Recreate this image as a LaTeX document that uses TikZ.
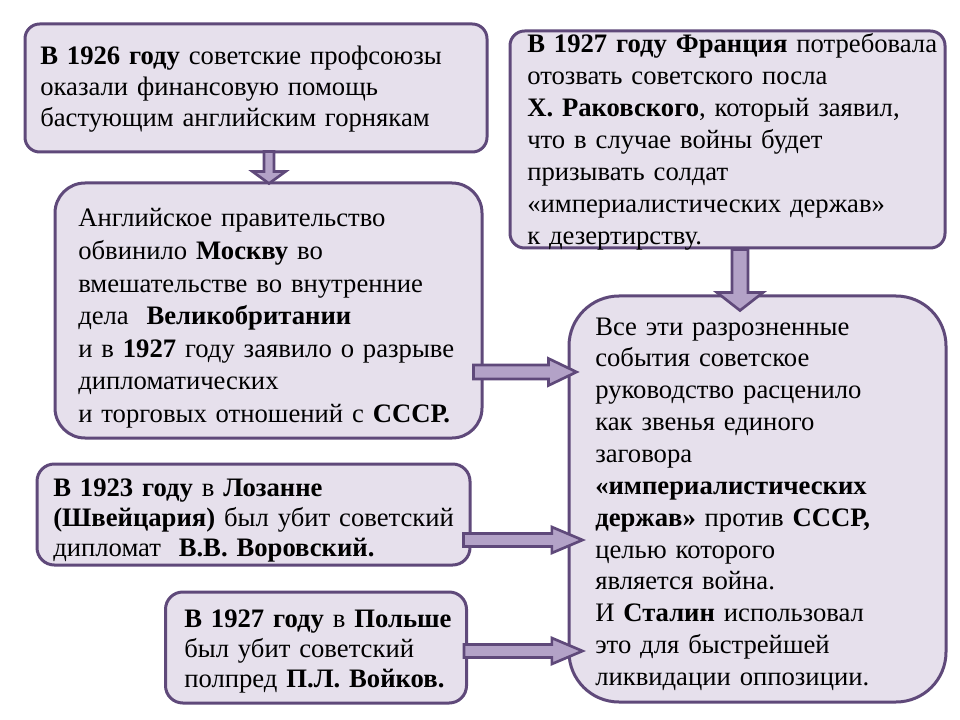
\documentclass[tikz,border=0pt]{standalone}
\usepackage{fontspec}
\setmainfont{Liberation Serif}
\usetikzlibrary{calc}

\definecolor{boxfill}{HTML}{E6E0EC}
\definecolor{boxline}{HTML}{5F497A}
\definecolor{arrowfill}{HTML}{B3A2C7}

\begin{document}
\begin{tikzpicture}[
    x = 0.75pt, y = -0.75pt,
    box/.style = {draw = boxline, fill = boxfill, line width = 2.25pt,
      rounded corners = 11pt, inner sep = 0pt},
    txt/.style = {anchor = base west, inner sep = 0pt, align = left,
      text width = 380pt, font = \fontsize{20}{23.5}\selectfont},
    ba shaft/.store in = \bashaft, ba head/.store in = \bahead,
    ba len/.store in = \balen,
    ba shaft = 5pt, ba head = 10pt, ba len = 20pt,
    blockarrow/.style = {draw = boxline, fill = arrowfill, line width = 2pt,
      line join = miter,
      to path = {
        ($(\tikztotarget)!\balen!(\tikztostart)$) coordinate (ba-h)
        ($(\tikztostart)!\bashaft!90:(\tikztotarget)$)
        -- ($(ba-h)!\bashaft!90:(\tikztotarget)$)
        -- ($(ba-h)!\bahead!90:(\tikztotarget)$)
        -- (\tikztotarget)
        -- ($(ba-h)!\bahead!-90:(\tikztotarget)$)
        -- ($(ba-h)!\bashaft!-90:(\tikztotarget)$)
        -- ($(\tikztostart)!\bashaft!-90:(\tikztotarget)$)
        -- cycle}}
  ]
  \useasboundingbox[fill = white] (0,0) rectangle (960,720);

  % boxes
  \node[box, minimum width = 346.5pt, minimum height = 96pt]
    (b1926) at (256,88) {};
  \node[box, minimum width = 326.25pt, minimum height = 162.75pt]
    (b1927fr) at (727.5,139.5) {};
  \node[box, rounded corners = 22.5pt, minimum width = 320.25pt,
    minimum height = 191.25pt] (bbrit) at (268.5,310.5) {};
  \node[box, rounded corners = 37.5pt, minimum width = 282.75pt,
    minimum height = 304.5pt] (bsum) at (757.5,499) {};
  \node[box, rounded corners = 13pt, minimum width = 324.75pt,
    minimum height = 75.75pt] (b1923) at (253.5,514.5) {};
  \node[box, rounded corners = 13pt, minimum width = 225.75pt,
    minimum height = 83.25pt] (b1927pl) at (316,647.5) {};

  % texts
  \node[txt, font = \fontsize{20}{23.25}\selectfont] (t1926) at (40,65)
    {\textbf{В 1926 году} советские профсоюзы\\
     оказали финансовую помощь\\
     бастующим английским горнякам};
  \node[txt, font = \fontsize{20}{24}\selectfont] (t1927fr) at (527,53)
    {\textbf{В 1927 году Франция} потребовала\\
     отозвать советского посла\\
     \textbf{Х. Раковского}, который заявил,\\
     что в случае войны будет\\
     призывать солдат\\
     «империалистических держав»\\
     к дезертирству.};
  \node[txt, font = \fontsize{20}{24.4}\selectfont] (tbrit) at (78,227)
    {Английское правительство\\
     обвинило \textbf{Москву} во\\
     вмешательстве во внутренние\\
     дела \ \textbf{Великобритании}\\
     и в \textbf{1927} году заявило о разрыве\\
     дипломатических\\
     и торговых отношений с \textbf{СССР.}};
  \node[txt, font = \fontsize{20}{23.9}\selectfont] (tsum) at (595,335)
    {Все эти разрозненные\\
     события советское\\
     руководство расценило\\
     как звенья единого\\
     заговора\\
     \textbf{«империалистических}\\
     \textbf{держав»} против \textbf{СССР,}\\
     целью которого\\
     является война.\\
     И \textbf{Сталин} использовал\\
     это для быстрейшей\\
     ликвидации оппозиции.};
  \node[txt, font = \fontsize{20}{22.5}\selectfont] (t1923) at (53,496)
    {\textbf{В 1923 году} в \textbf{Лозанне}\\
     \textbf{(Швейцария)} был убит советский\\
     дипломат \ \textbf{В.В. Воровский.}};
  \node[txt, font = \fontsize{20}{22.5}\selectfont] (t1927pl) at (184,627)
    {\textbf{В 1927 году} в \textbf{Польше}\\
     был убит советский\\
     полпред \textbf{П.Л. Войков.}};

  % arrows
  \path[blockarrow, ba shaft = 3.75pt, ba head = 12.4pt, ba len = 9pt]
    ([shift = {(13,-2)}]b1926.south) to ([shift = {(0.5,2)}]bbrit.north);
  \path[blockarrow, ba shaft = 6pt, ba head = 17.25pt, ba len = 13.5pt]
    ([shift = {(12.5,0)}]b1927fr.south) to ([shift = {(-17.5,16)}]bsum.north);
  \path[blockarrow, ba shaft = 5.25pt, ba head = 10.1pt, ba len = 21pt]
    ([shift = {(-10,61.5)}]bbrit.east) to ([shift = {(9,-127)}]bsum.west);
  \path[blockarrow, ba shaft = 4.9pt, ba head = 9.75pt, ba len = 23pt]
    ([shift = {(-8,25.5)}]b1923.east) to ([shift = {(15,41)}]bsum.west);
  \path[blockarrow, ba shaft = 4.9pt, ba head = 9.75pt, ba len = 23pt]
    ([shift = {(-4,3.5)}]b1927pl.east) to ([shift = {(15,152)}]bsum.west);
\end{tikzpicture}
\end{document}
